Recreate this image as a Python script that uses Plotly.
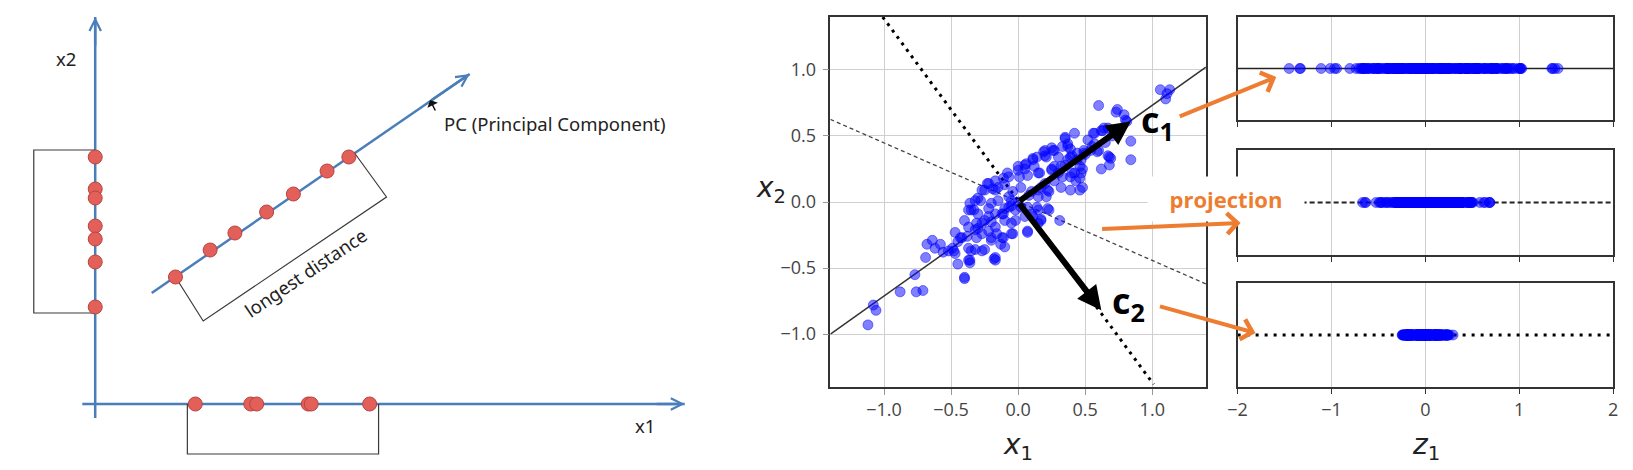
import plotly.graph_objects as go

W, H = 1633, 470
BLUE = "#4A7EBB"
RED = "#E3605A"
ORANGE = "#ED7D31"

# ---------------- Left diagram (diagram units, origin at the axes crossing) ----------------
axis1_points = [101, 157, 163, 215, 218, 277]          # points projected on x1
axis2_points = [247, 215, 206, 178, 165, 142, 97]      # points projected on x2
pc_points_x = [81, 116, 141, 173, 200, 234, 256]       # points on the PC line
pc_points_y = [127, 154, 171, 192, 210, 233, 247]
x1_axis_x = [-13, 595]
x1_axis_y = [0, 0]
x2_axis_x = [0, 0]
x2_axis_y = [-14, 387]
pc_line_x = [57, 378]
pc_line_y = [111, 330]
bracket_left_x = [0, -62, -62, 0]
bracket_left_y = [254, 254, 91, 91]
bracket_bottom_x = [93, 93, 286, 286]
bracket_bottom_y = [0, -50, -50, 0]
bracket_pc_x = [81, 109, 294, 261]
bracket_pc_y = [127, 83, 207, 252]

# ---------------- Middle scatter (x1, x2) ----------------
X1 = [-1.12, -1.08, -1.06, -0.88, -0.76, -0.71, -0.77, -0.69, -0.68, -0.64,
      -0.62, -0.58, -0.56, -0.49, -0.47, -0.45, -0.40, -0.36, -0.37, -0.32,
      -0.25, -0.18, -0.47, -0.43, -0.40, -0.38, -0.36, -0.33, -0.31, -0.27,
      -0.25, -0.22, -0.20, -0.16, -0.13, -0.11, -0.10, -0.42, -0.48, -0.36,
      -0.30, -0.35, -0.28, -0.23, -0.19, -0.15, -0.10, -0.08, -0.04, -0.05,
      -0.07, -0.12, -0.17, -0.20, -0.15, -0.10, -0.04, -0.02, 0.02, 0.05,
      0.07, 0.11, 0.14, 0.17, 0.23, 0.31, 0.00, 0.02, 0.06, 0.11,
      0.12, 0.16, 0.19, 0.21, 0.25, 0.27, 0.30, 0.35, 0.37, 0.40,
      0.44, 0.47, 0.48, 0.46, 0.48, 0.46, 0.40, 0.32, 0.27, 0.23,
      0.21, 0.17, 0.27, 0.20, 0.37, 0.05, 0.07, 0.25, 0.32, 0.39,
      0.20, 0.15, -0.22, -0.27, -0.17, -0.07, -0.32, -0.37, -0.30, -0.22,
      -0.10, -0.02, 0.07, 0.15, -0.05, -0.17, -0.27, -0.37, -0.31, -0.12,
      -0.05, -0.35, -0.27, -0.17, 0.17, -0.11,
      0.57, 0.62, 0.60, 0.62, 0.67, 0.69, 0.64, 0.67, 0.74, 0.79,
      0.80, 0.84, 0.84, 0.60, 1.06, 1.10, 1.13, 1.11, 0.72, 0.54,
      0.52, 0.57, 0.42, 0.37, 0.81, 0.56, 0.63, 0.68, 0.59, 0.49,
      0.35, 0.33, 0.20, 0.26, 0.14, 0.39, 0.46, 0.47, 0.43, 0.33,
      0.25, 0.15, 0.39, 0.50, 0.55, 0.30, 0.10, -0.05, 0.00, -0.20,
      -0.30, 0.08, 0.35, -0.45, -0.52, 0.65, 0.70, 0.75,
      0.73, 0.68, 0.11, 0.05, 0.01, 0.39, 0.44, 0.22, 0.22, 0.07,
      -0.17, -0.37, -0.40, -0.20, -0.32, -0.22, -0.25, -0.17, -0.07, 0.00,
      0.15, 0.42, 0.49, -0.11, 0.10, 0.15]
X2 = [-0.93, -0.78, -0.82, -0.68, -0.68, -0.67, -0.55, -0.42, -0.32, -0.29,
      -0.35, -0.32, -0.38, -0.35, -0.39, -0.47, -0.57, -0.44, -0.35, -0.36,
      -0.36, -0.43, -0.23, -0.27, -0.14, -0.26, -0.01, -0.06, -0.16, -0.24,
      -0.14, -0.22, -0.29, -0.24, -0.32, -0.27, -0.34, -0.27, -0.37, -0.46,
      0.03, -0.06, 0.01, 0.14, 0.10, 0.11, 0.13, 0.22, 0.08, 0.01,
      -0.04, -0.09, -0.09, -0.01, 0.01, -0.14, -0.24, -0.14, -0.04, -0.11,
      -0.22, -0.11, -0.04, -0.13, -0.06, -0.14, 0.24, 0.11, 0.29, 0.33,
      0.27, 0.22, 0.38, 0.34, 0.41, 0.39, 0.34, 0.49, 0.42, 0.35,
      0.37, 0.32, 0.25, 0.18, 0.11, 0.09, 0.22, 0.11, 0.16, 0.08,
      0.04, 0.11, 0.27, 0.35, 0.32, 0.28, 0.20, 0.25, 0.27, 0.19,
      0.14, 0.09, 0.14, 0.09, 0.09, 0.04, 0.01, -0.06, -0.09, -0.05,
      -0.05, -0.06, -0.04, -0.06, -0.16, -0.19, -0.16, -0.19, -0.27, -0.27,
      -0.24, -0.37, -0.37, -0.42, -0.14, 0.18,
      0.52, 0.54, 0.39, 0.25, 0.35, 0.33, 0.56, 0.56, 0.70, 0.66,
      0.62, 0.46, 0.32, 0.73, 0.85, 0.78, 0.85, 0.82, 0.52, 0.39,
      0.47, 0.44, 0.52, 0.44, 0.61, 0.52, 0.54, 0.34, 0.38, 0.39,
      0.48, 0.42, 0.39, 0.39, 0.34, 0.34, 0.27, 0.22, 0.16, 0.19,
      0.24, 0.22, 0.09, 0.36, 0.42, 0.22, 0.08, -0.03, 0.00, -0.15,
      -0.20, 0.05, 0.28, -0.30, -0.37, 0.45, 0.50, 0.55,
      0.68, 0.28, 0.32, 0.25, 0.19, 0.40, 0.32, 0.09, -0.05, -0.23,
      -0.44, -0.44, -0.58, -0.27, -0.21, -0.11, 0.09, 0.16, 0.19, 0.27,
      0.04, 0.22, 0.37, -0.09, -0.09, -0.16]

solid_line_x = [-1.4, 1.4]
solid_line_y = [-1.0, 1.02]
dashed_line_x = [-1.4, 1.4]
dashed_line_y = [0.625, -0.62]
dotted_line_x = [-1.01, 1.01]
dotted_line_y = [1.40, -1.38]

c1_dir = (0.81, 0.585)
c2_dir = (0.585, -0.81)
dash_dir = (0.913, -0.407)
c1_tip = (0.84, 0.61)
c2_tip = (0.62, -0.82)
c1_label_pos = (1.04, 0.61)
c2_label_pos = (0.825, -0.76)

mid_ticks = [-1.0, -0.5, 0.0, 0.5, 1.0]
mid_ticktext = ["\u22121.0", "\u22120.5", "0.0", "0.5", "1.0"]
z_ticks = [-2, -1, 0, 1, 2]
z_ticktext = ["\u22122", "\u22121", "0", "1", "2"]
z_line_x = [-2, 2]
z_line_y = [0, 0]

# projections of the scatter onto the three axes
z_c1 = [a * c1_dir[0] + b * c1_dir[1] for a, b in zip(X1, X2)]
z_dash = [a * dash_dir[0] + b * dash_dir[1] for a, b in zip(X1, X2)]
z_c2 = [a * c2_dir[0] + b * c2_dir[1] for a, b in zip(X1, X2)]


def pxx(p):
    return p / W


def pxy(p):
    return 1 - p / H


fig = go.Figure()

# ---- left diagram traces ----
for lx, ly in [(x1_axis_x, x1_axis_y), (x2_axis_x, x2_axis_y), (pc_line_x, pc_line_y)]:
    fig.add_trace(go.Scatter(x=lx, y=ly, mode="lines", line=dict(color=BLUE, width=2.5),
                             xaxis="x5", yaxis="y5", hoverinfo="skip"))
for bx, by in [(bracket_left_x, bracket_left_y), (bracket_bottom_x, bracket_bottom_y),
               (bracket_pc_x, bracket_pc_y)]:
    fig.add_trace(go.Scatter(x=bx, y=by, mode="lines", line=dict(color="#3a3a3a", width=1.2),
                             xaxis="x5", yaxis="y5", hoverinfo="skip"))
red_marker = dict(color=RED, size=14, line=dict(color="#B8433E", width=1))
fig.add_trace(go.Scatter(x=axis1_points, y=[0] * len(axis1_points), mode="markers",
                         marker=red_marker, xaxis="x5", yaxis="y5"))
fig.add_trace(go.Scatter(x=[0] * len(axis2_points), y=axis2_points, mode="markers",
                         marker=red_marker, xaxis="x5", yaxis="y5"))
fig.add_trace(go.Scatter(x=pc_points_x, y=pc_points_y, mode="markers",
                         marker=red_marker, xaxis="x5", yaxis="y5"))

# ---- middle scatter ----
fig.add_trace(go.Scatter(x=solid_line_x, y=solid_line_y, mode="lines",
                         line=dict(color="#333333", width=1.5), xaxis="x", yaxis="y"))
fig.add_trace(go.Scatter(x=dashed_line_x, y=dashed_line_y, mode="lines",
                         line=dict(color="#444444", width=1.3, dash="4px,3px"), xaxis="x", yaxis="y"))
fig.add_trace(go.Scatter(x=dotted_line_x, y=dotted_line_y, mode="lines",
                         line=dict(color="black", width=3, dash="3px,5px"), xaxis="x", yaxis="y"))
blue_marker = dict(color="rgba(0,0,255,0.5)", size=10, line=dict(color="rgba(0,0,255,0.45)", width=1))
fig.add_trace(go.Scatter(x=X1, y=X2, mode="markers", marker=blue_marker, xaxis="x", yaxis="y"))

# ---- right panels ----
fig.add_trace(go.Scatter(x=z_line_x, y=z_line_y, mode="lines", line=dict(color="#222", width=1.5),
                         xaxis="x2", yaxis="y2"))
fig.add_trace(go.Scatter(x=z_c1, y=[0] * len(z_c1), mode="markers", marker=blue_marker,
                         xaxis="x2", yaxis="y2"))
fig.add_trace(go.Scatter(x=z_line_x, y=z_line_y, mode="lines",
                         line=dict(color="#222", width=2, dash="5px,3px"), xaxis="x3", yaxis="y3"))
fig.add_trace(go.Scatter(x=z_dash, y=[0] * len(z_dash), mode="markers", marker=blue_marker,
                         xaxis="x3", yaxis="y3"))
fig.add_trace(go.Scatter(x=z_line_x, y=z_line_y, mode="lines",
                         line=dict(color="black", width=3, dash="3px,6px"), xaxis="x4", yaxis="y4"))
fig.add_trace(go.Scatter(x=z_c2, y=[0] * len(z_c2), mode="markers", marker=blue_marker,
                         xaxis="x4", yaxis="y4"))

tickfont = dict(family="Open Sans", size=18, color="#444")
frame = dict(showline=True, mirror=True, linecolor="#333", linewidth=1.5, zeroline=False)
grid = dict(showgrid=True, gridcolor="#cfcfcf", gridwidth=1)

mid_x_dom = [pxx(828), pxx(1207)]
mid_y_dom = [pxy(387), pxy(17)]
right_x_dom = [pxx(1239), pxx(1618)]

layout = dict(
    width=W, height=H, margin=dict(l=0, r=0, t=0, b=0),
    paper_bgcolor="white", plot_bgcolor="white", showlegend=False,
    xaxis=dict(domain=mid_x_dom, range=[-1.4, 1.4], anchor="y", tickvals=mid_ticks,
               ticktext=mid_ticktext, tickfont=tickfont, ticks="outside", ticklen=6,
               tickcolor="#999", ticklabelstandoff=0, **frame, **grid),
    yaxis=dict(domain=mid_y_dom, range=[-1.4, 1.4], anchor="x", tickvals=mid_ticks,
               ticktext=mid_ticktext, tickfont=tickfont, ticks="outside", ticklen=6,
               tickcolor="#999", ticklabelstandoff=3, **frame, **grid),
    xaxis5=dict(domain=[0, pxx(700)], range=[-86, 614], anchor="y5", visible=False),
    yaxis5=dict(domain=[0, 1], range=[-66, 404], anchor="x5", visible=False),
)
panel_doms = [[pxy(120), pxy(17)], [pxy(255), pxy(150)], [pxy(387), pxy(283)]]
for i, dom in enumerate(panel_doms):
    n = i + 2
    layout[f"xaxis{n}"] = dict(domain=right_x_dom, range=[-2, 2], anchor=f"y{n}",
                               tickvals=z_ticks, ticktext=z_ticktext, tickfont=tickfont,
                               showticklabels=(i == 2), ticks="outside", ticklen=5,
                               tickcolor="#333", ticklabelstandoff=1, **frame, **grid)
    layout[f"yaxis{n}"] = dict(domain=dom, range=[-1, 1], anchor=f"x{n}", showticklabels=False,
                               showgrid=False, ticks="", **frame)
fig.update_layout(**layout)

ann = []
lfont = dict(family="Noto Sans", size=18.5, color="#222")
# left diagram arrowheads and texts
ann += [
    dict(x=x2_axis_x[1], y=x2_axis_y[1], ax=x2_axis_x[1], ay=x2_axis_y[1] - 30, xref="x5", yref="y5",
         axref="x5", ayref="y5", showarrow=True, arrowhead=5, arrowsize=0.9, arrowwidth=2.5,
         arrowcolor=BLUE, text=""),
    dict(x=x1_axis_x[1], y=x1_axis_y[1], ax=x1_axis_x[1] - 30, ay=x1_axis_y[1], xref="x5", yref="y5",
         axref="x5", ayref="y5", showarrow=True, arrowhead=5, arrowsize=0.9, arrowwidth=2.5,
         arrowcolor=BLUE, text=""),
    dict(x=pc_line_x[1], y=pc_line_y[1], ax=pc_line_x[1] - 40, ay=pc_line_y[1] - 27, xref="x5", yref="y5",
         axref="x5", ayref="y5", showarrow=True, arrowhead=5, arrowsize=0.9, arrowwidth=2.5,
         arrowcolor=BLUE, text=""),
    dict(x=338, y=304, ax=344, ay=292, xref="x5", yref="y5", axref="x5", ayref="y5",
         showarrow=True, arrowhead=1, arrowsize=1.3, arrowwidth=1.5, arrowcolor="#111", text=""),
    dict(x=-29, y=346, xref="x5", yref="y5", text="x2", showarrow=False, font=lfont,
         xanchor="center", yanchor="middle"),
    dict(x=555, y=-21, xref="x5", yref="y5", text="x1", showarrow=False, font=lfont,
         xanchor="center", yanchor="middle"),
    dict(x=350, y=281, xref="x5", yref="y5", text="PC (Principal Component)", showarrow=False,
         xanchor="left", yanchor="middle", font=lfont),
    dict(x=212, y=132, xref="x5", yref="y5", text="longest distance", showarrow=False,
         textangle=-34, font=lfont, xanchor="center", yanchor="middle"),
]
# black component arrows
for tip in (c1_tip, c2_tip):
    ann.append(dict(x=tip[0], y=tip[1], ax=0, ay=0, xref="x", yref="y", axref="x", ayref="y",
                    showarrow=True, arrowhead=2, arrowsize=0.8, arrowwidth=6, arrowcolor="black",
                    text=""))
cfont = dict(family="Open Sans", size=36, color="black")
ann.append(dict(x=c1_label_pos[0], y=c1_label_pos[1], xref="x", yref="y",
                text="<b>c</b><sub><b>1</b></sub>", showarrow=False, font=cfont,
                xanchor="center", yanchor="middle"))
ann.append(dict(x=c2_label_pos[0], y=c2_label_pos[1], xref="x", yref="y",
                text="<b>c</b><sub><b>2</b></sub>", showarrow=False, font=cfont,
                xanchor="center", yanchor="middle"))
# axis titles
tfont = dict(family="DejaVu Sans", size=28, color="#222")
for (tx, ty, txt) in [(1017, 446, "<i>x</i><sub>1</sub>"), (768, 189, "<i>x</i><sub>2</sub>"),
                      (1429, 446, "<i>z</i><sub>1</sub>")]:
    ann.append(dict(x=pxx(tx), y=pxy(ty), xref="paper", yref="paper", text=txt,
                    showarrow=False, font=tfont, xanchor="center", yanchor="middle"))
# projection label with white box
ann.append(dict(x=pxx(1227), y=pxy(199), xref="paper", yref="paper", text="<b>projection</b>",
                showarrow=False, bgcolor="white", width=152, height=40, borderpad=2,
                xanchor="center", yanchor="middle",
                font=dict(family="Open Sans", size=22, color=ORANGE)))
# orange arrows
for (tx, ty, dx, dy) in [(1278, 77, -98, 40), (1242, 223, -140, 6), (1257, 333, -97, -27)]:
    ann.append(dict(x=pxx(tx), y=pxy(ty), xref="paper", yref="paper", ax=dx, ay=dy,
                    showarrow=True, arrowhead=4, arrowsize=1, arrowwidth=4, arrowcolor=ORANGE,
                    text=""))
fig.update_layout(annotations=ann)

fig.write_html("out.html", config={"displayModeBar": False},
               post_script="document.body.style.margin='0px';")
